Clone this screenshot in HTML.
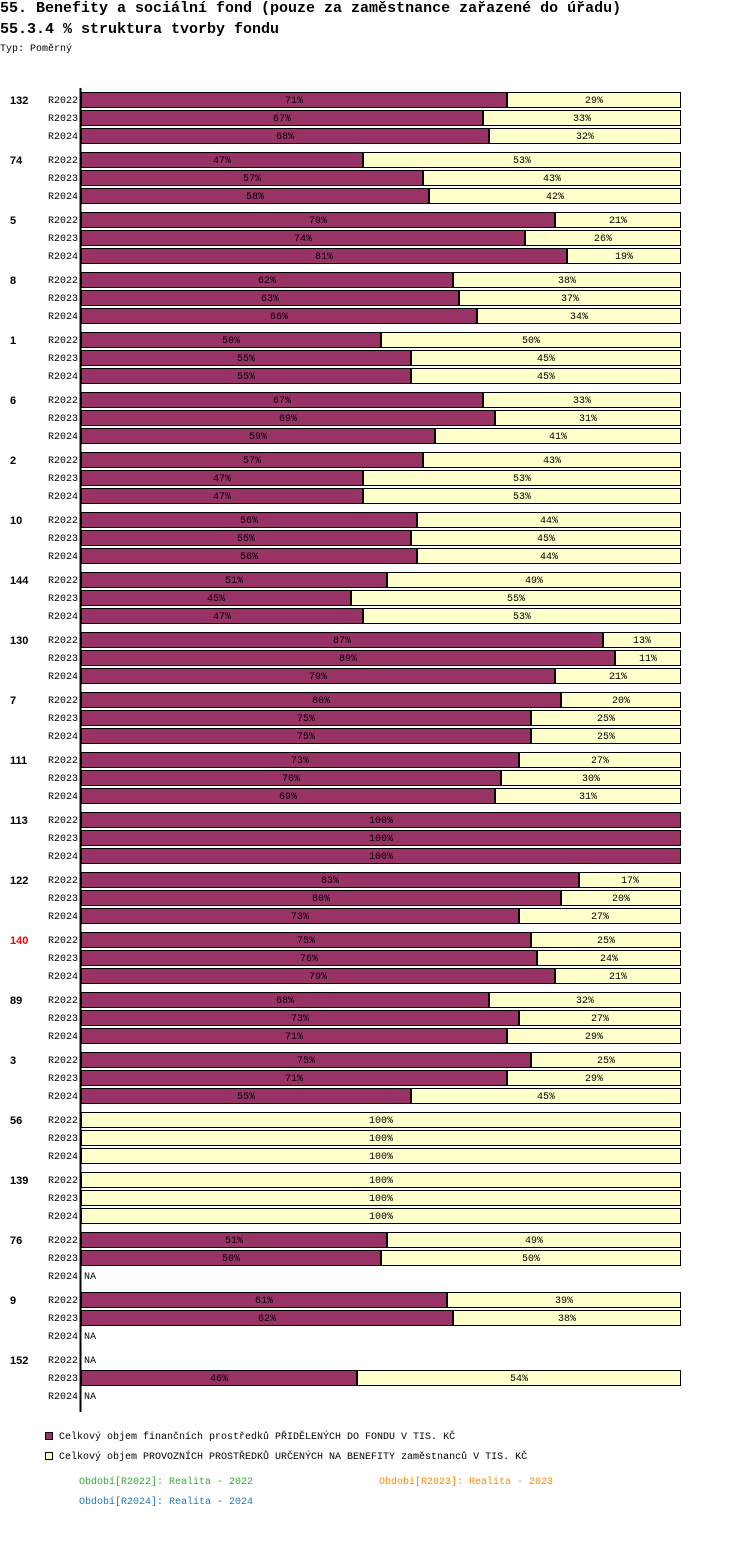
<!DOCTYPE html>
<html><head><meta charset="utf-8"><style>
body{margin:0;background:#fff;width:750px;height:1542px;overflow:hidden;position:relative;font-family:"Liberation Mono",monospace;}
.t{position:absolute;white-space:nowrap;}
</style></head><body>
<div class="t" style="left:0;top:0;font-size:15px;font-weight:bold;">55. Benefity a sociální fond (pouze za zaměstnance zařazené do úřadu)</div>
<div class="t" style="left:0;top:21px;font-size:15px;font-weight:bold;">55.3.4 % struktura tvorby fondu</div>
<div class="t" style="left:0;top:44px;font-size:10px;">Typ: Poměrný</div>
<svg id="c" width="750" height="1542" style="position:absolute;left:0;top:0;font-family:'Liberation Mono',monospace"></svg>
<script>
const categories=["132","74","5","8","1","6","2","10","144","130","7","111","113","122","140","89","3","56","139","76","9","152"];
const periods=["R2022","R2023","R2024"];
// purple share (%) per category per period; null = NA
const purpleValues=[
[71,67,68],[47,57,58],[79,74,81],[62,63,66],[50,55,55],[67,69,59],[57,47,47],[56,55,56],
[51,45,47],[87,89,79],[80,75,75],[73,70,69],[100,100,100],[83,80,73],[75,76,79],[68,73,71],
[75,71,55],[0,0,0],[0,0,0],[51,50,null],[61,62,null],[null,46,null]];
const highlighted=["140"];
const svg=document.getElementById('c');
const NS='http://www.w3.org/2000/svg';
const x0=81,W=600,top0=92,groupH=60,rowH=18,barH=15;
const xs=v=>x0+v/100*W;
function el(t,a,txt){const e=document.createElementNS(NS,t);for(const k in a)e.setAttribute(k,a[k]);if(txt!=null)e.textContent=txt;svg.appendChild(e);return e;}
categories.forEach((c,gi)=>{
  const gy=top0+gi*groupH;
  const cl=el('text',{x:10,y:gy+12,'font-size':11,'font-weight':'bold',fill:highlighted.includes(c)?'#f00':'#000','font-family':'Liberation Sans,sans-serif'},c);
  
  
  periods.forEach((p,pi)=>{
    const y=gy+pi*rowH;
    const pl=el('text',{x:78,y:y+11,'font-size':10,'text-anchor':'end'},p);
    
    
    const v=purpleValues[gi][pi];
    if(v==null){const na=el('text',{x:84,y:y+11,'font-size':10},'NA');
      
      return;}
    const segs=[[0,v,'#993366'],[v,100,'#ffffcc']];
    segs.forEach(([a,b,col],si)=>{
      if(b-a<=0)return;
      const r=el('rect',{x:xs(a)+0.5,y:y+0.5,width:xs(b)-xs(a)-1,height:barH,fill:col,stroke:'#000','stroke-width':1});
      
      
      const lt=el('text',{x:(xs(a)+xs(b))/2,y:y+11,'font-size':10,'text-anchor':'middle'},(b-a)+'%');
      
      
    });
  });
});
const ax=el('line',{x1:80.5,y1:88,x2:80.5,y2:1412,stroke:'#000','stroke-width':2});


</script>
<div class="t" style="left:45px;top:1432px;font-size:10px;"><span style="display:inline-block;width:6px;height:6px;background:#993366;border:1px solid #000;margin-right:6px;vertical-align:-1px;"></span>Celkový objem finančních prostředků PŘIDĚLENÝCH DO FONDU V TIS. KČ</div>
<div class="t" style="left:45px;top:1452px;font-size:10px;"><span style="display:inline-block;width:6px;height:6px;background:#ffffcc;border:1px solid #000;margin-right:6px;vertical-align:-1px;"></span>Celkový objem PROVOZNÍCH PROSTŘEDKŮ URČENÝCH NA BENEFITY zaměstnanců V TIS. KČ</div>
<div class="t" style="left:79px;top:1477px;font-size:10px;color:#33aa33;">Období[R2022]: Realita - 2022</div>
<div class="t" style="left:379px;top:1477px;font-size:10px;color:#ff8800;">Období[R2023]: Realita - 2023</div>
<div class="t" style="left:79px;top:1497px;font-size:10px;color:#2277bb;">Období[R2024]: Realita - 2024</div>
</body></html>
